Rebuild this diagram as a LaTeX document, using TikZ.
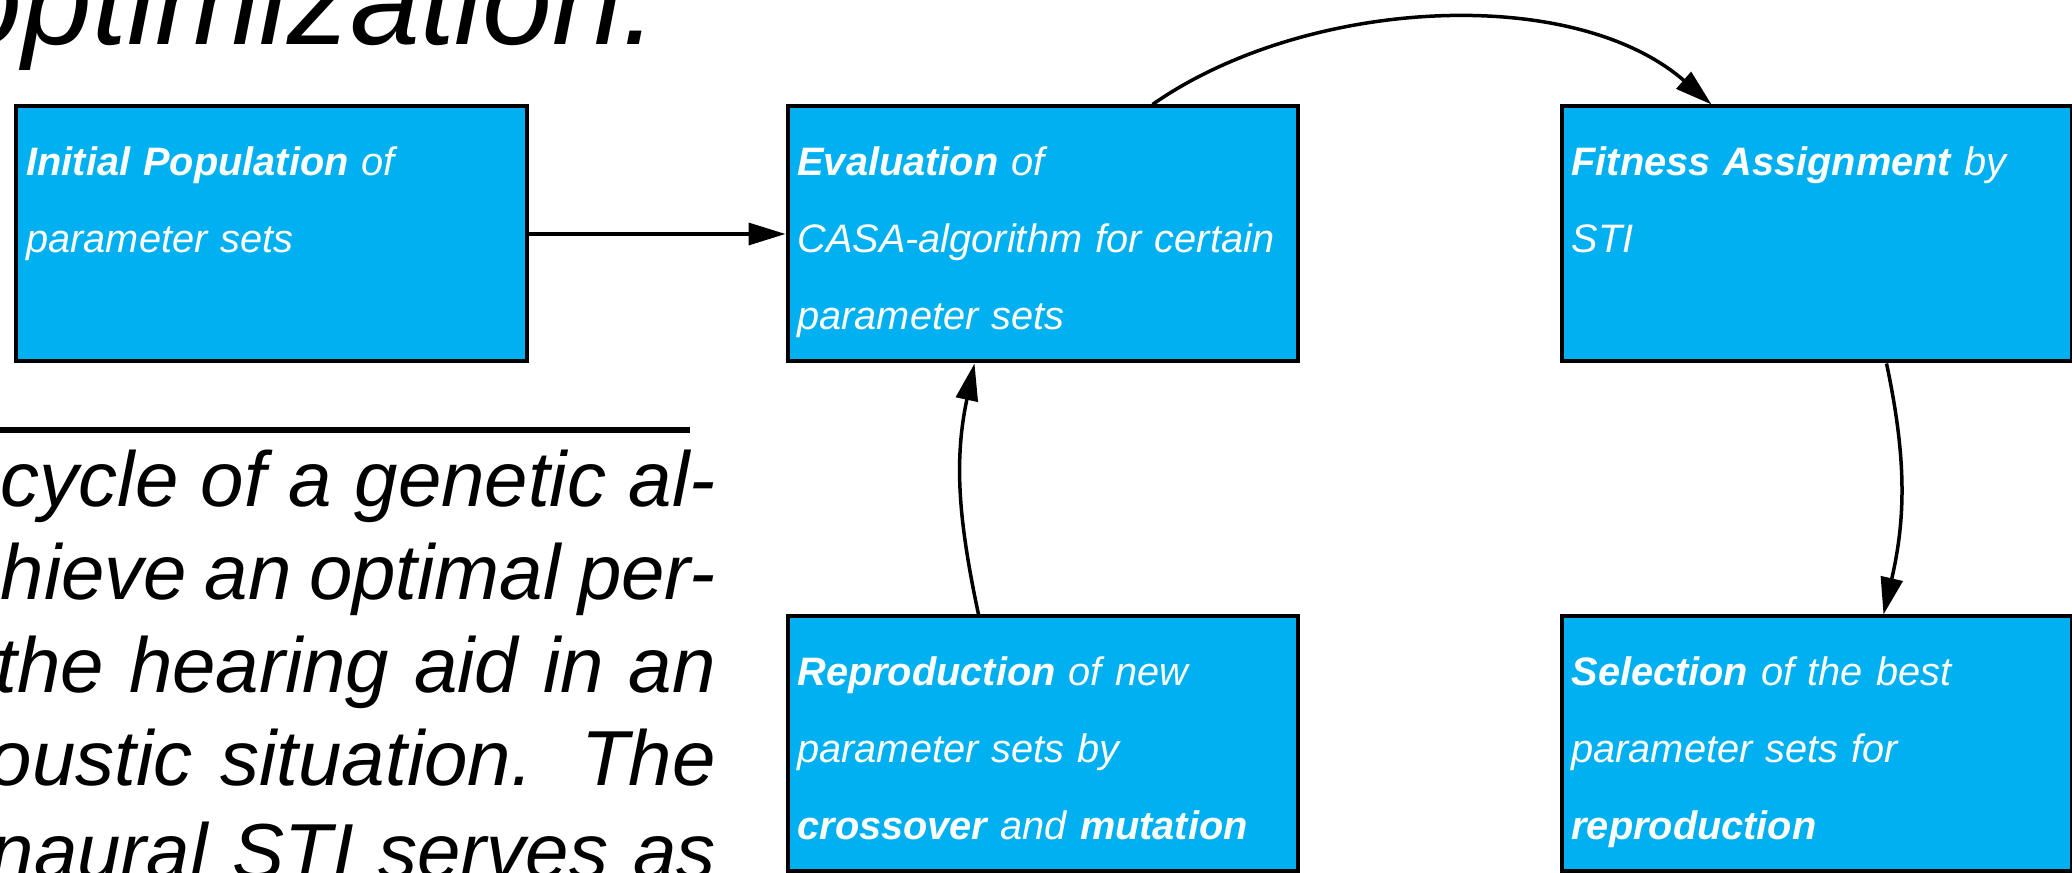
\documentclass[tikz,border=0pt]{standalone}
\usepackage{fontspec}
\setmainfont{Liberation Sans}
\usepackage{tikz}
\usetikzlibrary{arrows.meta, positioning}
\definecolor{boxblue}{HTML}{00B0F0}

\begin{document}
\begin{tikzpicture}[
  node distance=2.51cm and 2.57cm,
  stage/.style={rectangle, draw, line width=0.04cm, fill=boxblue, text=white, minimum width=5.10cm, minimum height=2.55cm, text width=4.9cm, inner xsep=0.1cm, align=left, text height=0.3cm, text depth=1.46cm, font=\fontsize{11.3}{21.9}\selectfont\itshape},
  bodyline/.style={anchor=base west, inner sep=0pt, font=\fontsize{22.2}{25}\selectfont\itshape},
  arrow/.style={-{Triangle[length=0.37cm, width=0.22cm]}, line width=0.035cm}
]
  \clip (0,0) rectangle (20.72,-8.73);

  % page text on the left
  \node[anchor=base east, inner sep=0pt, font=\fontsize{35.7}{40}\selectfont\itshape] (title) at (6.58,-0.45) {optimization.};
  \coordinate (ruleL) at (0,-4.30);
  \coordinate (ruleR) at (6.90,-4.30);
  \draw[line width=0.06cm] (ruleL) -- (ruleR);
  \node[bodyline] (l1) at (0,-5.07) {\makebox[7.15cm][s]{cycle of a genetic al-}};
  \node[bodyline] (l2) at (0,-6.00) {\makebox[7.15cm][s]{hieve an optimal per-}};
  \node[bodyline] (l3) at (-0.05,-6.93) {\makebox[7.20cm][s]{the hearing aid in an}};
  \node[bodyline] (l4) at (-0.12,-7.86) {\makebox[7.27cm][s]{oustic  situation.  The}};
  \node[bodyline] (l5) at (-0.10,-8.79) {\makebox[7.25cm][s]{naural STI serves as}};

  % cycle of the genetic algorithm
  \node[stage] (init) at (2.715,-2.34) {\textbf{Initial Population} of\\parameter sets};
  \node[stage, right=of init] (eval) {\textbf{Evaluation} of\\CASA-algorithm for certain\\parameter sets};
  \node[stage, right=2.6cm of eval] (fit) {\textbf{Fitness Assignment} by\\STI};
  \node[stage, below=of eval] (repr) {\textbf{Reproduction} of new\\parameter sets by\\\textbf{crossover} and \textbf{mutation}};
  \node[stage, below=of fit] (sel) {\textbf{Selection} of the best\\parameter sets for\\\textbf{reproduction}};

  \draw[arrow] (init) -- (eval);
  \draw[arrow] ([xshift=1.1cm]eval.north) to[out=35, in=139, looseness=0.85] ([xshift=-1.05cm]fit.north);
  \draw[arrow] ([xshift=0.7cm]fit.south) to[out=-78, in=77] ([xshift=0.67cm]sel.north);
  \draw[arrow] ([xshift=-0.64cm]repr.north) to[out=102, in=-102] ([xshift=-0.68cm]eval.south);
\end{tikzpicture}
\end{document}
